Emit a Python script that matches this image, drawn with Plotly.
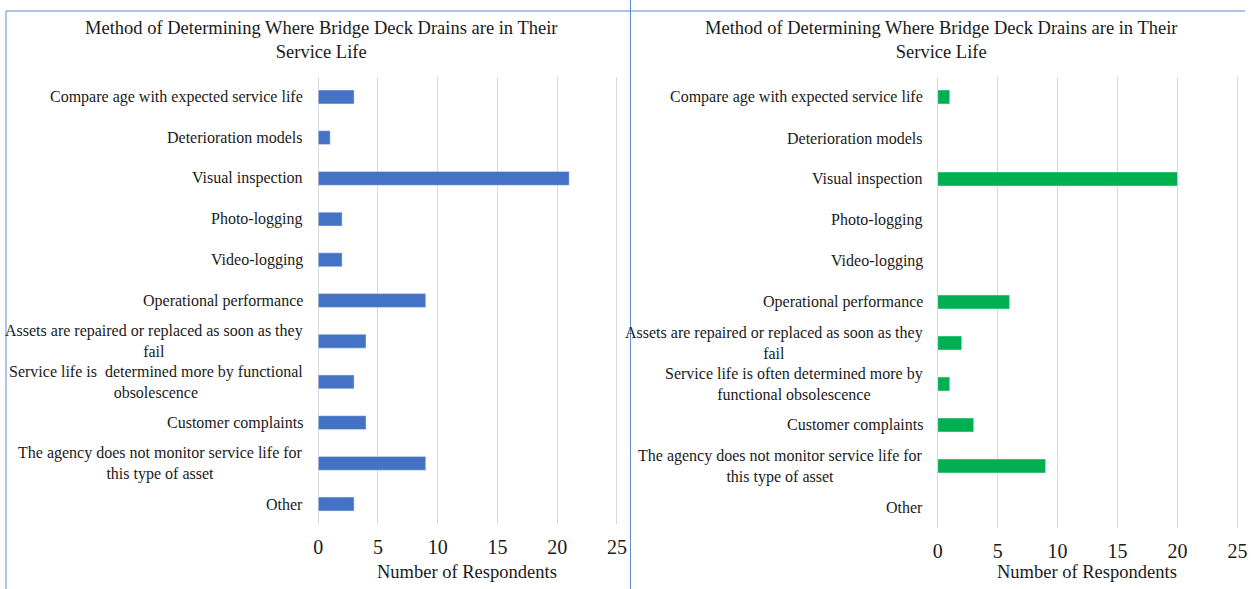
import plotly.graph_objects as go

W, H = 1251, 589

categories_left = [
    "Compare age with expected service life",
    "Deterioration models",
    "Visual inspection",
    "Photo-logging",
    "Video-logging",
    "Operational performance",
    "Assets are repaired or replaced as soon as they<br>fail",
    "Service life is  determined more by functional<br>obsolescence",
    "Customer complaints",
    "The agency does not monitor service life for<br>this type of asset",
    "Other",
]
values_left = [3, 1, 21, 2, 2, 9, 4, 3, 4, 9, 3]

categories_right = [
    "Compare age with expected service life",
    "Deterioration models",
    "Visual inspection",
    "Photo-logging",
    "Video-logging",
    "Operational performance",
    "Assets are repaired or replaced as soon as they<br>fail",
    "Service life is often determined more by<br>functional obsolescence",
    "Customer complaints",
    "The agency does not monitor service life for<br>this type of asset",
    "Other",
]
values_right = [1, 0, 20, 0, 0, 6, 2, 1, 3, 9, 0]

title_text = "Method of Determining Where Bridge Deck Drains are in Their<br>Service Life"
x_title = "Number of Respondents"
x_ticks = [0, 5, 10, 15, 20, 25]

FONT = "Liberation Serif, Times New Roman, serif"
BLUE = "#4472C4"
GREEN = "#00B050"
BORDER = "#5B87D6"
GRID = "#D9D9D9"
TXT = "#1a1a1a"

fig = go.Figure()
fig.add_trace(go.Bar(y=categories_left, x=values_left, orientation="h",
                     marker=dict(color=BLUE), width=0.34, xaxis="x", yaxis="y"))
fig.add_trace(go.Bar(y=categories_right, x=values_right, orientation="h",
                     marker=dict(color=GREEN), width=0.34, xaxis="x2", yaxis="y2"))

def px_x(p):
    return p / W

def px_y(p):
    return 1 - p / H

xaxis_common = dict(range=[0, 25.3], tickvals=x_ticks, showgrid=True, gridcolor=GRID,
                    gridwidth=1, zeroline=True, zerolinecolor=GRID, zerolinewidth=1,
                    showline=False, ticks="outside", ticklen=5, tickcolor="rgba(0,0,0,0)",
                    tickfont=dict(family=FONT, size=20, color=TXT), fixedrange=True)
yaxis_common = dict(type="category", autorange="reversed", showticklabels=False,
                    showgrid=False, zeroline=False, showline=False, ticks="", fixedrange=True)

fig.update_layout(
    width=W, height=H,
    margin=dict(l=0, r=0, t=0, b=0),
    paper_bgcolor="white", plot_bgcolor="white",
    showlegend=False,
    xaxis=dict(domain=[px_x(316), px_x(621)], anchor="y", **xaxis_common),
    yaxis=dict(domain=[px_y(524.4), px_y(76.6)], anchor="x", **yaxis_common),
    xaxis2=dict(domain=[px_x(941), px_x(1247)], anchor="y2", **xaxis_common),
    yaxis2=dict(domain=[px_y(527.5), px_y(76.5)], anchor="x2", **yaxis_common),
)

annotations = []
for cat in categories_left:
    annotations.append(dict(x=0, y=cat, xref="x", yref="y", text=cat, showarrow=False,
                            xanchor="right", yanchor="middle", align="center", xshift=-13,
                            font=dict(family=FONT, size=16, color=TXT)))
for cat in categories_right:
    annotations.append(dict(x=0, y=cat, xref="x2", yref="y2", text=cat, showarrow=False,
                            xanchor="right", yanchor="middle", align="center", xshift=-13,
                            font=dict(family=FONT, size=16, color=TXT)))
for cx in (319, 944):
    annotations.append(dict(x=px_x(cx), y=px_y(40), xref="paper", yref="paper",
                            text=title_text, showarrow=False, xanchor="center", yanchor="middle",
                            align="center", font=dict(family=FONT, size=18.5, color=TXT)))
for cx in (466, 1092):
    annotations.append(dict(x=px_x(cx), y=px_y(572), xref="paper", yref="paper",
                            text=x_title, showarrow=False, xanchor="center", yanchor="middle",
                            font=dict(family=FONT, size=18.5, color=TXT)))
fig.update_layout(annotations=annotations)

shapes = [
    dict(type="line", xref="paper", yref="paper", x0=px_x(1), x1=px_x(1), y0=px_y(11), y1=0,
         line=dict(color=BORDER, width=1)),
    dict(type="line", xref="paper", yref="paper", x0=px_x(1), x1=1, y0=px_y(11), y1=px_y(11),
         line=dict(color=BORDER, width=1)),
    dict(type="line", xref="paper", yref="paper", x0=px_x(631), x1=px_x(631), y0=1, y1=0,
         line=dict(color=BORDER, width=1)),
]
fig.update_layout(shapes=shapes)

fig.write_html("out.html", config={"displayModeBar": False},
               post_script="document.body.style.margin='0';document.body.style.overflow='hidden';")
